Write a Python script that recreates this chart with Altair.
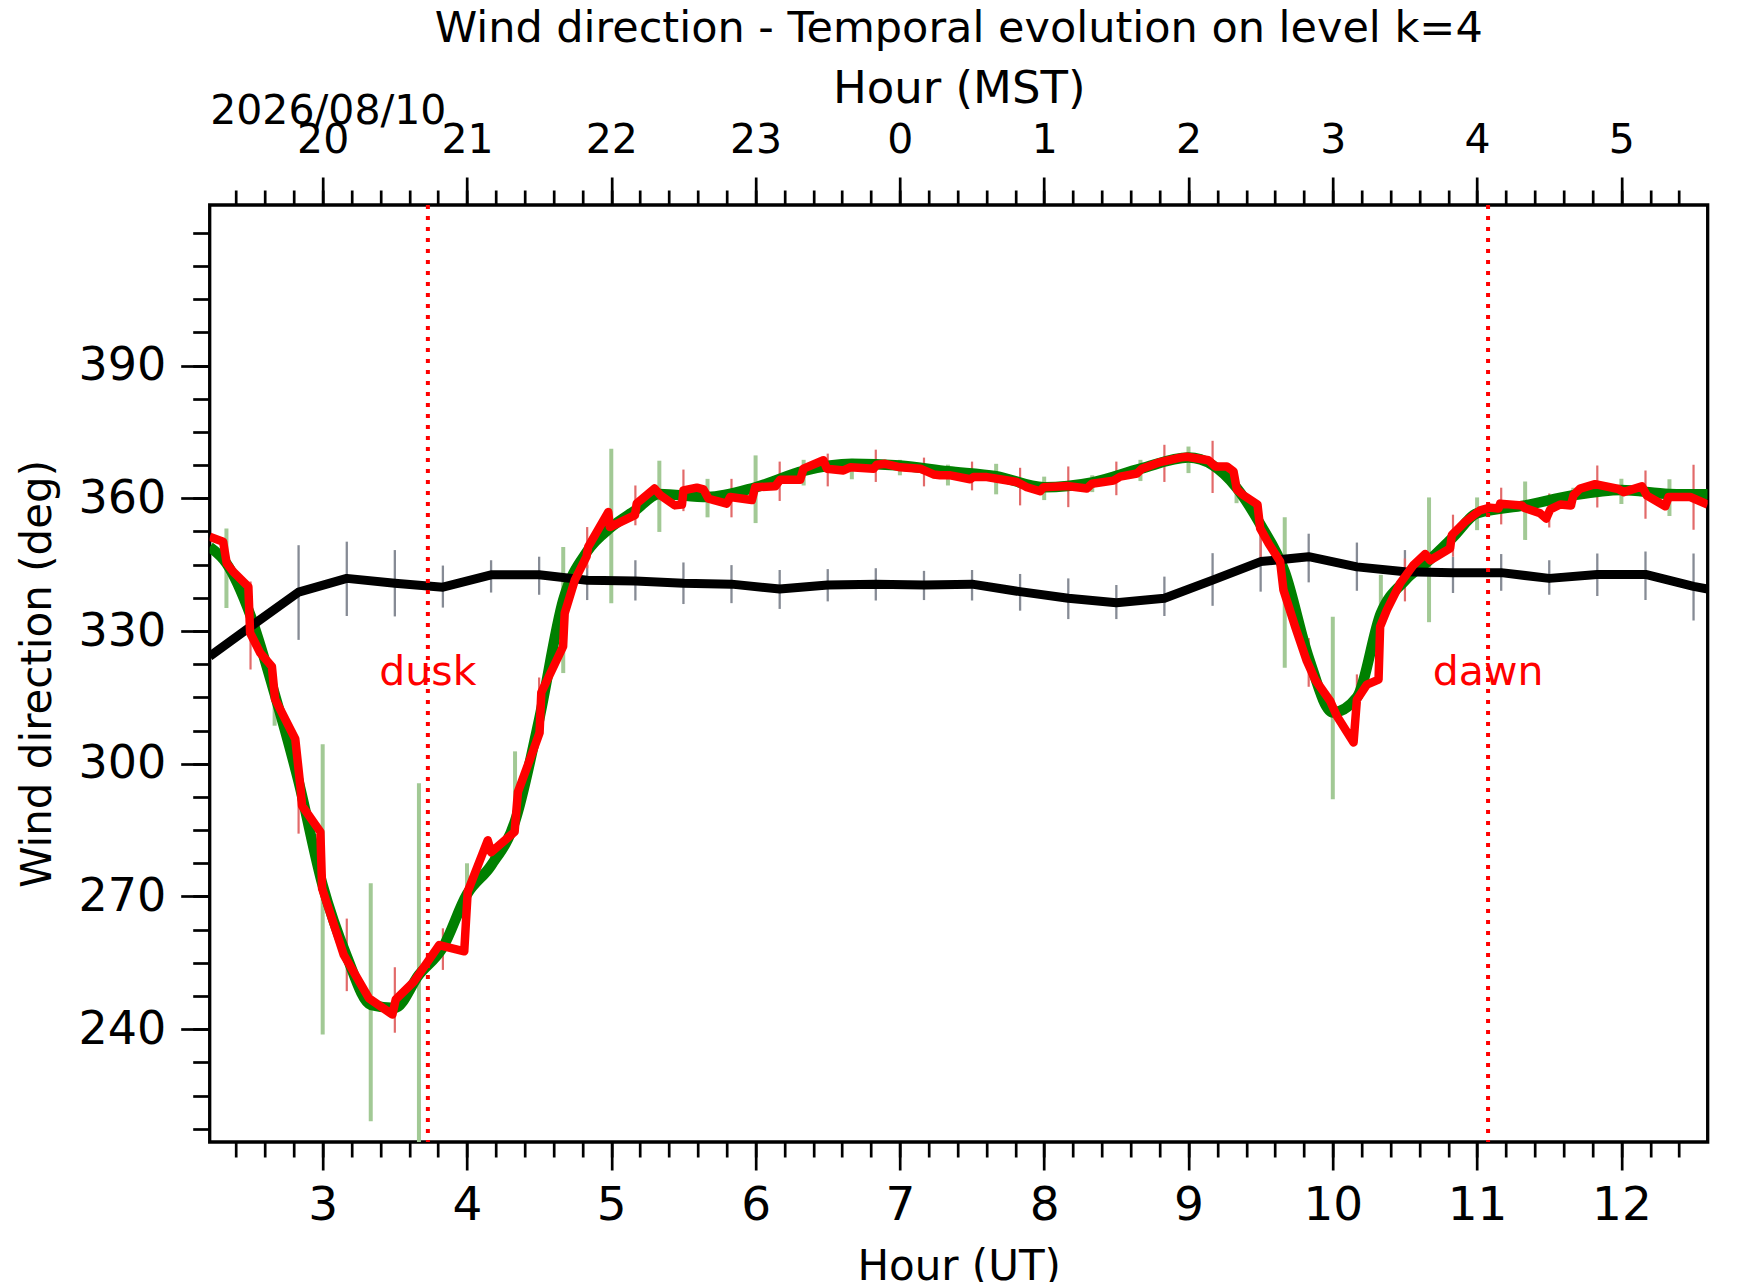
import altair as alt
import pandas as pd

# ---------------- values ----------------
# red series (10-minute segments)
ut_red = [2.217, 2.31, 2.335, 2.38, 2.485, 2.497, 2.566, 2.648, 2.67, 2.81, 2.845, 2.857,
          2.984, 2.996, 3.146, 3.32, 3.483, 3.506, 3.633, 3.807, 3.981, 4.005, 4.144, 4.167,
          4.33, 4.353, 4.47, 4.503, 4.515, 4.666, 4.677, 4.747, 4.828, 4.84, 4.979, 4.99,
          5.164, 5.176, 5.30, 5.34, 5.44, 5.49, 5.50, 5.593, 5.639, 5.674, 5.80, 5.824,
          5.974, 5.997, 6.136, 6.17, 6.309, 6.332, 6.47, 6.494, 6.609, 6.656, 6.817, 6.84,
          6.898, 7.002, 7.141, 7.233, 7.279, 7.35, 7.487, 7.51, 7.603, 7.695, 7.81, 7.88,
          7.972, 7.995, 8.157, 8.296, 8.33, 8.48, 8.527, 8.643, 8.677, 8.804, 8.942, 8.989,
          9.139, 9.185, 9.266, 9.312, 9.335, 9.381, 9.478, 9.497, 9.555, 9.635, 9.658, 9.739,
          9.82, 9.878, 9.982, 10.028, 10.144, 10.167, 10.236, 10.317, 10.328, 10.375, 10.467,
          10.559, 10.64, 10.675, 10.813, 10.825, 10.918, 11.021, 11.09, 11.148, 11.16, 11.31,
          11.33, 11.437, 11.479, 11.507, 11.576, 11.65, 11.668, 11.714, 11.818, 11.98, 12.015,
          12.142, 12.177, 12.304, 12.327, 12.477, 12.598]
dir_red = [351.3, 350.2, 345.3, 343.4, 340.0, 329.6, 325.1, 322.0, 314.6, 305.6, 295.0, 290.5,
           284.6, 271.8, 256.8, 247.0, 243.3, 246.7, 250.8, 259.0, 257.6, 271.1, 282.7, 280.0,
           284.6, 293.6, 304.0, 307.0, 316.1, 326.5, 334.0, 341.5, 346.8, 349.0, 356.9, 353.5,
           356.2, 358.8, 362.2, 360.7, 358.4, 358.6, 361.8, 362.4, 362.0, 359.9, 358.8, 360.3,
           359.6, 362.5, 362.7, 364.2, 364.2, 366.7, 368.6, 366.7, 366.3, 367.0, 366.7, 367.6,
           367.8, 367.0, 366.7, 365.4, 365.2, 365.2, 364.3, 364.8, 364.8, 364.3, 363.7, 362.5,
           361.6, 362.5, 362.8, 362.2, 363.3, 364.0, 364.9, 365.6, 366.7, 368.2, 369.2, 369.4,
           368.6, 367.2, 367.2, 366.1, 362.0, 360.7, 358.6, 353.2, 349.8, 345.7, 339.3, 331.0,
           323.2, 319.0, 314.2, 310.8, 304.8, 314.5, 317.9, 319.0, 331.0, 334.8, 340.8,
           344.9, 347.4, 346.0, 348.7, 351.7, 354.7, 357.3, 357.9, 357.7, 358.8, 358.4,
           357.8, 356.6, 355.4, 357.5, 358.6, 358.4, 360.7, 362.2, 363.2, 362.1, 361.4,
           362.7, 360.6, 358.2, 360.3, 360.3, 358.6]

# green (smoothed) series
ut_green = [2.217, 2.333, 2.5, 2.667, 2.833, 3.0, 3.167, 3.333, 3.5, 3.667, 3.833, 4.0, 4.167,
            4.333, 4.5, 4.667, 4.833, 5.0, 5.167, 5.333, 5.667, 6.0, 6.333, 6.667, 7.0, 7.333,
            7.667, 8.0, 8.333, 8.667, 9.0, 9.167, 9.333, 9.5, 9.667, 9.833, 10.0, 10.167,
            10.333, 10.5, 10.667, 10.833, 11.0, 11.333, 11.667, 12.0, 12.333, 12.598]
dir_green = [349.0, 345.3, 333.5, 315.8, 296.0, 272.5, 256.5, 245.5, 244.8, 252.3, 258.5, 270.5,
             277.0, 287.0, 310.0, 337.0, 348.0, 353.5, 357.3, 361.0, 360.3, 362.5, 366.2, 367.8,
             367.4, 366.1, 365.0, 362.5, 363.6, 366.7, 369.2, 367.5, 362.4, 354.0, 343.4, 324.0,
             311.6, 315.0, 334.0, 341.4, 346.0, 351.2, 356.6, 358.4, 360.7, 361.9, 361.0, 360.9]

# black series
ut_black = [2.217, 2.5, 2.833, 3.167, 3.5, 3.833, 4.167, 4.5, 4.833, 5.167, 5.5, 5.833, 6.167,
            6.5, 6.833, 7.167, 7.5, 7.833, 8.167, 8.5, 8.833, 9.167, 9.5, 9.833, 10.167, 10.5,
            10.833, 11.167, 11.5, 11.833, 12.167, 12.5, 12.598]
dir_black = [324.3, 331.0, 338.8, 341.9, 340.8, 339.9, 342.7, 342.7, 341.5, 341.3, 340.8, 340.6,
             339.5, 340.4, 340.6, 340.4, 340.6, 338.9, 337.4, 336.4, 337.4, 341.5, 345.7, 346.8,
             344.5, 343.4, 343.2, 343.2, 341.9, 342.8, 342.8, 340.1, 339.5]

# green error bars
ut_gbar = [2.333, 2.667, 3.0, 3.333, 3.667, 4.0, 4.333, 4.667, 5.0, 5.333, 5.667, 6.0, 6.333,
           6.667, 7.0, 7.333, 7.667, 8.0, 8.333, 8.667, 9.0, 9.333, 9.667, 10.0, 10.333, 10.667,
           11.0, 11.333, 11.667, 12.0, 12.333]
lo_gbar = [335.2, 308.6, 238.8, 219.2, 210.0, 270.5, 290.5, 320.5, 336.3, 352.4, 355.7, 354.4,
           362.9, 364.3, 365.2, 362.9, 360.9, 359.6, 361.4, 363.9, 365.7, 358.9, 321.7, 292.0,
           329.0, 332.0, 352.8, 350.6, 358.0, 358.7, 356.0]
hi_gbar = [353.2, 319.1, 304.4, 273.0, 295.6, 277.5, 302.8, 349.0, 371.2, 368.5, 364.4, 369.7,
           368.7, 368.9, 368.7, 367.6, 367.8, 364.9, 365.2, 368.7, 371.7, 364.0, 355.7, 333.2,
           342.7, 360.2, 360.2, 363.8, 362.4, 364.4, 364.3]

# grey error bars (black series)
ut_kbar = [2.833, 3.167, 3.5, 3.833, 4.167, 4.5, 4.833, 5.167, 5.5, 5.833, 6.167, 6.5, 6.833,
           7.167, 7.5, 7.833, 8.167, 8.5, 8.833, 9.167, 9.5, 9.833, 10.167, 10.5, 10.833,
           11.167, 11.5, 11.833, 12.167, 12.5]
lo_kbar = [328.0, 333.4, 333.3, 335.3, 338.7, 338.2, 337.0, 336.9, 336.1, 336.3, 335.0, 336.7,
           336.9, 337.0, 336.9, 334.6, 332.7, 332.7, 333.4, 335.7, 338.9, 341.0, 339.1, 342.3,
           338.6, 339.1, 338.2, 337.9, 337.0, 332.4]
hi_kbar = [349.4, 350.2, 348.3, 344.8, 346.0, 346.8, 344.9, 346.0, 345.5, 344.9, 343.8, 344.0,
           344.2, 343.6, 343.8, 342.9, 341.9, 340.4, 342.3, 347.6, 352.2, 352.0, 350.0, 348.3,
           346.8, 347.4, 346.0, 347.5, 348.0, 347.5]

# red error bars
ut_rbar = [2.5, 2.833, 3.167, 3.5, 3.833, 4.167, 4.5, 4.833, 5.167, 5.5, 5.833, 6.167, 6.5,
           6.833, 7.167, 7.5, 7.833, 8.167, 8.5, 8.833, 9.167, 9.5, 9.833, 10.167, 10.5,
           10.833, 11.167, 11.5, 11.833, 12.167, 12.5]
lo_rbar = [321.3, 284.2, 248.6, 239.2, 253.4, 276.1, 307.0, 344.2, 353.9, 357.1, 355.7, 359.4,
           362.7, 363.7, 362.7, 361.8, 358.4, 358.0, 360.7, 363.7, 361.2, 346.0, 317.4, 312.3,
           336.7, 346.8, 354.1, 353.4, 357.9, 355.4, 352.9]
hi_rbar = [341.2, 295.8, 265.0, 254.0, 262.8, 282.3, 319.5, 353.5, 362.9, 366.5, 364.4, 368.3,
           370.1, 371.0, 369.2, 368.3, 366.9, 367.2, 368.3, 372.1, 373.0, 353.5, 328.4, 320.2,
           346.4, 356.3, 362.4, 361.1, 367.4, 366.3, 367.6]

# dusk / dawn markers
mark_ut = [3.729, 11.076]
mark_label = ["dusk", "dawn"]
mark_dir = [317.7, 317.7]

x_major = [3, 4, 5, 6, 7, 8, 9, 10, 11, 12]
y_major = [240, 270, 300, 330, 360, 390]

TITLE = "Wind direction - Temporal evolution on level k=4"
DATE = "2026/08/10"

# ---------------- chart ----------------
x_minor = [round(2.4 + 0.2 * i, 1) for i in range(51)]
y_minor = [217.5 + 7.5 * i for i in range(28)]

W, H = 1498, 937
FONT = "DejaVu Sans"
xs = alt.Scale(domain=[2.217, 12.598], nice=False, zero=False)
ys = alt.Scale(domain=[214.5, 426.3], nice=False, zero=False)

common = dict(domain=False, grid=False, tickColor="black", tickWidth=2.7,
              labelColor="black", labelFont=FONT, titleFont=FONT, titleColor="black",
              titleFontWeight="normal", labelFlush=False, labelOverlap=False)

ax_bottom = alt.Axis(orient="bottom", values=x_major, format="d", tickSize=28,
                     labelFontSize=47, labelBaseline="alphabetic", labelPadding=50,
                     title="Hour (UT)", titleFontSize=42, titleX=W / 2, titleY=137.6,
                     titleBaseline="alphabetic", titleAlign="center", **common)
ax_bottom_minor = alt.Axis(orient="bottom", values=x_minor, tickSize=15, labels=False,
                           title=None, **common)
ax_top = alt.Axis(orient="top", values=x_major, labelExpr="(datum.value + 17) % 24",
                  tickSize=28, labelFontSize=41, labelBaseline="alphabetic",
                  labelPadding=24.3, title="Hour (MST)", titleFontSize=45, titleX=W / 2,
                  titleY=-102.3, titleBaseline="alphabetic", titleAlign="center", **common)
ax_top_minor = alt.Axis(orient="top", values=x_minor, tickSize=15, labels=False,
                        title=DATE, titleFontSize=41, titleX=0, titleY=-81.7,
                        titleAlign="left", titleBaseline="alphabetic", **common)
ax_left = alt.Axis(orient="left", values=y_major, format="d", tickSize=29,
                   labelFontSize=46, labelPadding=15, title="Wind direction (deg)",
                   titleFontSize=42, titleAngle=270, titleX=-159.3, titleY=H / 2,
                   titleBaseline="alphabetic", titleAlign="center", **common)
ax_left_minor = alt.Axis(orient="left", values=y_minor, tickSize=17, labels=False,
                         title=None, **common)

df_red = pd.DataFrame({"ut": ut_red, "dir": dir_red})
df_green = pd.DataFrame({"ut": ut_green, "dir": dir_green})
df_black = pd.DataFrame({"ut": ut_black, "dir": dir_black})
df_gbar = pd.DataFrame({"ut": ut_gbar, "lo": lo_gbar, "hi": hi_gbar})
df_kbar = pd.DataFrame({"ut": ut_kbar, "lo": lo_kbar, "hi": hi_kbar})
df_rbar = pd.DataFrame({"ut": ut_rbar, "lo": lo_rbar, "hi": hi_rbar})
df_mark = pd.DataFrame({"ut": mark_ut, "dir": mark_dir, "label": mark_label})

green_bars = alt.Chart(df_gbar).mark_rule(color="#a2c995", strokeWidth=4, clip=True).encode(
    x=alt.X("ut:Q", scale=xs, axis=ax_top),
    y=alt.Y("lo:Q", scale=ys, axis=ax_left), y2="hi:Q")
gray_bars = alt.Chart(df_kbar).mark_rule(color="#868b95", strokeWidth=2.3, clip=True).encode(
    x=alt.X("ut:Q", scale=xs, axis=ax_top_minor),
    y=alt.Y("lo:Q", scale=ys, axis=ax_left_minor), y2="hi:Q")
red_bars = alt.Chart(df_rbar).mark_rule(color="#e26a6a", strokeWidth=2.2, clip=True).encode(
    x=alt.X("ut:Q", scale=xs, axis=ax_bottom_minor),
    y=alt.Y("lo:Q", scale=ys, axis=None), y2="hi:Q")
green_line = alt.Chart(df_green).mark_line(color="#008000", strokeWidth=10.5,
                                            interpolate="monotone", clip=True).encode(
    x=alt.X("ut:Q", scale=xs, axis=ax_bottom),
    y=alt.Y("dir:Q", scale=ys, axis=None))
black_line = alt.Chart(df_black).mark_line(color="black", strokeWidth=9,
                                            strokeJoin="round", clip=True).encode(
    x=alt.X("ut:Q", scale=xs, axis=None),
    y=alt.Y("dir:Q", scale=ys, axis=None))
red_line = alt.Chart(df_red).mark_line(color="#ff0000", strokeWidth=8.5,
                                        strokeJoin="round", clip=True).encode(
    x=alt.X("ut:Q", scale=xs, axis=None),
    y=alt.Y("dir:Q", scale=ys, axis=None))
labels = alt.Chart(df_mark).mark_text(font=FONT, fontSize=41, color="#ff0000",
                                       align="center", baseline="alphabetic").encode(
    x=alt.X("ut:Q", scale=xs, axis=None),
    y=alt.Y("dir:Q", scale=ys, axis=None), text="label:N")
vlines = alt.Chart(df_mark).mark_rule(color="#ff0000", strokeWidth=4,
                                       strokeDash=[4, 7]).encode(
    x=alt.X("ut:Q", scale=xs, axis=None))

chart = alt.layer(green_bars, gray_bars, red_bars, green_line, black_line, red_line,
                  labels, vlines).resolve_axis(x="independent", y="independent").properties(
    width=W, height=H,
    title=alt.TitleParams(text=TITLE, fontSize=43, font=FONT, fontWeight="normal",
                          color="black", anchor="middle", dy=-12),
    padding={"left": 201.7, "top": 197, "right": 12, "bottom": 140},
    autosize=alt.AutoSizeParams(type="none"),
).configure_view(stroke="black", strokeWidth=3.3)

chart.save("out.html", embed_options={"renderer": "svg", "actions": False})
